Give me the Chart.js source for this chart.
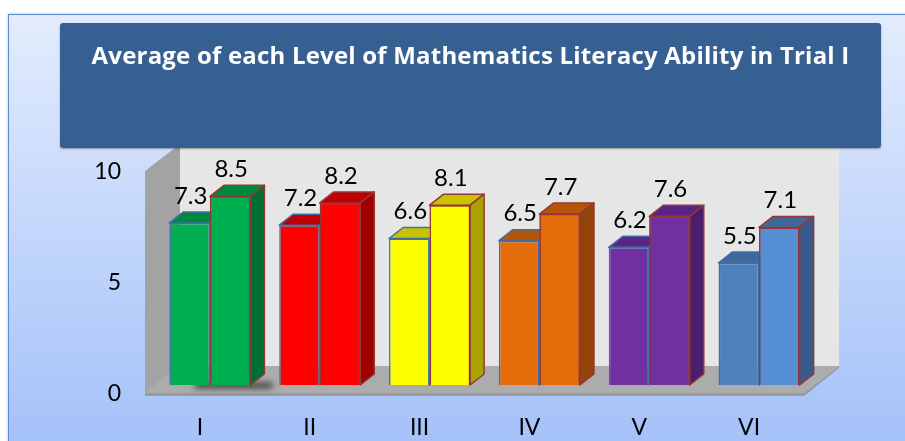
<!DOCTYPE html>
<html>
<head>
<meta charset="utf-8">
<script src="https://cdn.jsdelivr.net/npm/chart.js@4.4.0/dist/chart.umd.min.js"></script>
<style>
  html, body { margin: 0; padding: 0; background: #fff; }
  #wrap { position: relative; width: 905px; height: 441px; overflow: hidden; }
  #frame {
    position: absolute; left: 8px; top: 14px; width: 910px; height: 440px;
    border-top: 1px solid #5b8bd3; border-left: 1px solid #5b8bd3;
    background: linear-gradient(#e3ecfd, #a2c0f9);
    box-shadow: -1px -1px 2px rgba(0,0,0,0.15);
  }
  canvas { position: absolute; left: 0; top: 0; }
  #titleBox {
    position: absolute; left: 60px; top: 23px; width: 821px; height: 125px;
    background: #376092; border-radius: 3px; box-shadow: 0 1px 2px rgba(0,0,0,0.35);
    color: #fff; font: bold 24px "Open Sans", sans-serif; letter-spacing: 0.2px; text-align: center;
    box-sizing: border-box; padding-top: 17px; line-height: 30px; white-space: nowrap;
  }
</style>
</head>
<body>
<div id="wrap">
  <div id="frame"></div>
  <canvas id="chart" width="905" height="441"></canvas>
  <div id="titleBox">Average of each Level of Mathematics Literacy Ability in Trial I</div>
</div>
<script>
// data
const levels = ['I', 'II', 'III', 'IV', 'V', 'VI'];
const firstValues = [7.3, 7.2, 6.6, 6.5, 6.2, 5.5];
const secondValues = [8.5, 8.2, 8.1, 7.7, 7.6, 7.1];
const yTicks = [0, 5, 10];

// colours per level: front / top / side
const frontFirst  = ['#00b050', '#ff0000', '#ffff00', '#e46c0a', '#7030a0', '#4f81bd'];
const frontSecond = ['#00b050', '#ff0000', '#ffff00', '#e46c0a', '#7030a0', '#558ed5'];
const topColors   = ['#00893e', '#c00000', '#c8c200', '#b45508', '#5a2582', '#3f689c'];
const sideColors  = ['#006f33', '#a00000', '#a8a300', '#934507', '#4a1e6a', '#365b8c'];
const borderFirst = '#3e6fab';
const borderSecond = '#953735';

// 3d offsets, relative to the bar front plane
const DEPTH_X = 14, DEPTH_Y = -11;
const FRONT_X = -10, FRONT_Y = 8;
const BACK_X = 25, BACK_Y = -19;

function poly(ctx, pts, fill, stroke) {
  ctx.beginPath();
  ctx.moveTo(pts[0][0], pts[0][1]);
  for (let i = 1; i < pts.length; i++) ctx.lineTo(pts[i][0], pts[i][1]);
  ctx.closePath();
  ctx.fillStyle = fill;
  ctx.fill();
  if (stroke) {
    ctx.strokeStyle = stroke;
    ctx.lineWidth = 1.5;
    ctx.lineJoin = 'round';
    ctx.stroke();
  }
}

function drawFaces(ctx, bar, i, stroke) {
  const L = bar.x - bar.width / 2, R = bar.x + bar.width / 2;
  const t = bar.y, b = bar.base;
  poly(ctx, [[L, t], [R, t], [R + DEPTH_X, t + DEPTH_Y], [L + DEPTH_X, t + DEPTH_Y]], topColors[i], stroke);
  poly(ctx, [[R, t], [R + DEPTH_X, t + DEPTH_Y], [R + DEPTH_X, b + DEPTH_Y], [R, b]], sideColors[i], stroke);
}

const box3d = {
  id: 'box3d',
  beforeDatasetsDraw(chart) {
    const { ctx, chartArea: a, scales: { y } } = chart;
    const top = y.getPixelForValue(10);
    const bot = a.bottom;
    ctx.save();
    // back wall
    poly(ctx, [[a.left + BACK_X, top + BACK_Y - 10], [a.right + BACK_X, top + BACK_Y - 10],
               [a.right + BACK_X, bot + BACK_Y], [a.left + BACK_X, bot + BACK_Y]], '#e6e6e6');
    // side wall
    poly(ctx, [[a.left + FRONT_X, top + FRONT_Y], [a.left + BACK_X, top + BACK_Y],
               [a.left + BACK_X, bot + BACK_Y], [a.left + FRONT_X, bot + FRONT_Y]], '#a3a3a3');
    // floor edge
    poly(ctx, [[a.left + FRONT_X, bot + FRONT_Y], [a.right + FRONT_X, bot + FRONT_Y],
               [a.right + BACK_X, bot + BACK_Y], [a.right + BACK_X, bot + BACK_Y + 2],
               [a.right + FRONT_X, bot + FRONT_Y + 3], [a.left + FRONT_X, bot + FRONT_Y + 3]], '#999999');
    // floor
    poly(ctx, [[a.left + FRONT_X, bot + FRONT_Y], [a.right + FRONT_X, bot + FRONT_Y],
               [a.right + BACK_X, bot + BACK_Y], [a.left + BACK_X, bot + BACK_Y]], '#acacac');
    // soft shadow under the first group
    const m0 = chart.getDatasetMeta(0).data[0], m1 = chart.getDatasetMeta(1).data[0];
    if (m0 && m1) {
      ctx.filter = 'blur(3px)';
      ctx.fillStyle = 'rgba(0,0,0,0.75)';
      const x0 = m0.x + 5;
      ctx.fillRect(x0, m1.base - 2, m1.x + m1.width / 2 + DEPTH_X + 8 - x0, 5);
      ctx.filter = 'none';
    }
    ctx.restore();
  },
  afterDatasetDraw(chart, args) {
    // datasets are drawn last-to-first; once the first is done,
    // redraw the second on top so each pair overlaps like the original
    if (args.index !== 0) return;
    const { ctx } = chart;
    ctx.save();
    const meta0 = chart.getDatasetMeta(0), meta1 = chart.getDatasetMeta(1);
    meta0.data.forEach((bar, i) => drawFaces(ctx, bar, i, borderFirst));
    meta1.data.forEach((bar, i) => {
      bar.draw(ctx, chart.chartArea);
      drawFaces(ctx, bar, i, borderSecond);
    });
    ctx.restore();
  },
  afterDatasetsDraw(chart) {
    const { ctx } = chart;
    ctx.save();
    ctx.font = '24px Lato';
    ctx.fillStyle = '#000';
    ctx.textAlign = 'center';
    ctx.textBaseline = 'middle';
    chart.data.datasets.forEach((ds, di) => {
      chart.getDatasetMeta(di).data.forEach((bar, i) => {
        ctx.fillText(ds.data[i].toFixed(1), bar.x + 1, bar.y - 27);
      });
    });
    ctx.restore();
  }
};

new Chart(document.getElementById('chart'), {
  type: 'bar',
  data: {
    labels: levels,
    datasets: [
      { label: 'First', data: firstValues, backgroundColor: frontFirst, borderColor: borderFirst, borderWidth: 1.5 },
      { label: 'Second', data: secondValues, backgroundColor: frontSecond, borderColor: borderSecond, borderWidth: 1.5 }
    ]
  },
  options: {
    responsive: false,
    animation: false,
    devicePixelRatio: 1,
    layout: { padding: { left: 0, right: 91, top: 163, bottom: 0 } },
    plugins: { legend: { display: false }, tooltip: { enabled: false }, title: { display: false } },
    datasets: { bar: { categoryPercentage: 0.738, barPercentage: 1 } },
    scales: {
      x: {
        grid: { display: false, drawTicks: false },
        border: { display: false },
        ticks: { font: { family: 'Lato', size: 23 }, color: '#000', padding: 29, labelOffset: -10 },
        afterFit(scale) { scale.height = 56; }
      },
      y: {
        min: 0, max: 10,
        grid: { display: false, drawTicks: false },
        border: { display: false },
        afterBuildTicks(scale) { scale.ticks = yTicks.map(v => ({ value: v })); },
        ticks: { font: { family: 'Lato', size: 23 }, color: '#000', padding: 34, labelOffset: 9 },
        afterFit(scale) { scale.width = 155; }
      }
    }
  },
  plugins: [box3d]
});
</script>
</body>
</html>
